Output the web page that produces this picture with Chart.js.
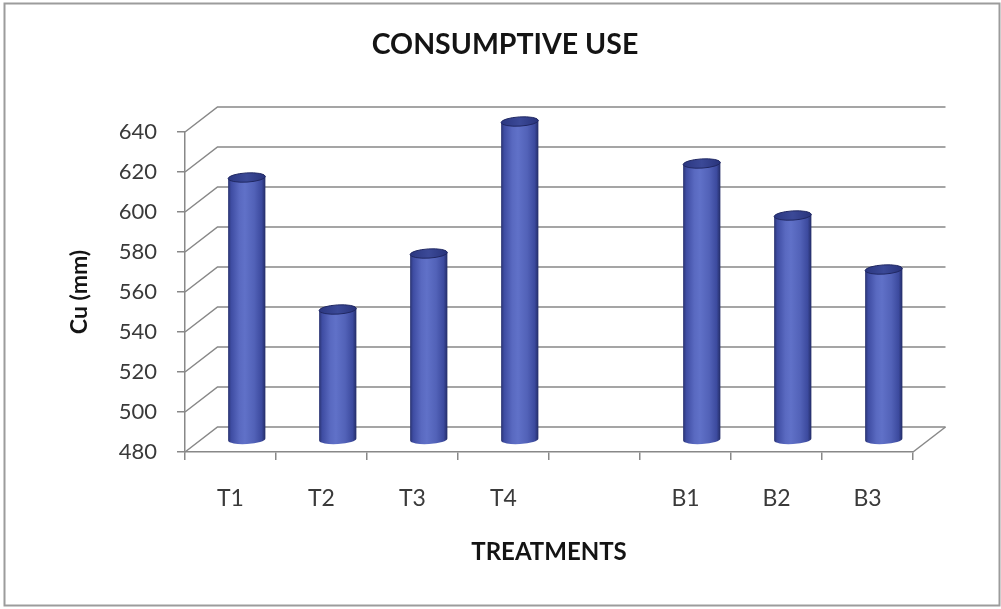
<!DOCTYPE html>
<html>
<head>
<meta charset="utf-8">
<title>Consumptive use</title>
<script src="https://cdn.jsdelivr.net/npm/chart.js@4.4.1/dist/chart.umd.min.js"></script>
<style>
  html, body { margin: 0; padding: 0; background: #ffffff; }
  #wrap { position: relative; width: 1001px; height: 609px; }
</style>
</head>
<body>
<div id="wrap"><canvas id="chart" width="1001" height="609"></canvas></div>
<script>
// Treatment labels (blank slot separates the T and B groups)
const categories = ['T1', 'T2', 'T3', 'T4', '', 'B1', 'B2', 'B3'];
// Consumptive use, mm
const cuValues = [611, 545, 573, 639, null, 618, 592, 565];
// Value axis range
const yMin = 480;
const yMax = 640;
const yStep = 20;

// Depth of the 3-D box (back wall offset from the front axes)
const DEPTH_X = 32.5;
const DEPTH_Y = 25;
const FONT = 'Lato, "Open Sans", sans-serif';
const GRID = '#888888';

function drawCylinder(ctx, cx, top, base, r, ry, tilt) {
  const c = Math.cos(tilt), s = Math.sin(tilt);
  const g = ctx.createLinearGradient(cx - r, 0, cx + r, 0);
  g.addColorStop(0, '#29326f');
  g.addColorStop(0.08, '#3e4ca2');
  g.addColorStop(0.3, '#5969c0');
  g.addColorStop(0.45, '#6071c8');
  g.addColorStop(0.7, '#5262b8');
  g.addColorStop(0.9, '#3c4a9e');
  g.addColorStop(1, '#232c66');
  ctx.beginPath();
  ctx.moveTo(cx - r * c, top - r * s);
  ctx.lineTo(cx - r * c, base - r * s);
  ctx.ellipse(cx, base, r, ry, tilt, Math.PI, 0, true);
  ctx.lineTo(cx + r * c, top + r * s);
  ctx.closePath();
  ctx.fillStyle = g;
  ctx.fill();

  const tg = ctx.createLinearGradient(cx - r, 0, cx + r, 0);
  tg.addColorStop(0, '#2b3781');
  tg.addColorStop(0.5, '#3b4997');
  tg.addColorStop(1, '#28337b');
  ctx.beginPath();
  ctx.ellipse(cx, top, r, ry, tilt, 0, Math.PI * 2);
  ctx.fillStyle = tg;
  ctx.fill();
  ctx.lineWidth = 1;
  ctx.strokeStyle = '#202863';
  ctx.stroke();
}

const box3d = {
  id: 'box3d',
  beforeDraw(chart) {
    const { ctx, width, height } = chart;
    ctx.save();
    ctx.fillStyle = '#ffffff';
    ctx.fillRect(0, 0, width, height);
    ctx.strokeStyle = '#9c9c9c';
    ctx.lineWidth = 2;
    ctx.strokeRect(4.5, 3.5, width - 6, height - 7);
    ctx.restore();
  },
  beforeDatasetsDraw(chart) {
    const { ctx, chartArea: a, scales: { y } } = chart;
    ctx.save();
    ctx.strokeStyle = GRID;
    ctx.lineWidth = 1.5;
    y.ticks.forEach(t => {
      const py = y.getPixelForValue(t.value);
      ctx.beginPath();
      ctx.moveTo(a.left, py);
      ctx.lineTo(a.left + DEPTH_X, py - DEPTH_Y);
      ctx.lineTo(a.right + DEPTH_X, py - DEPTH_Y);
      ctx.stroke();
    });
    const p0 = y.getPixelForValue(yMin);
    ctx.beginPath();
    ctx.moveTo(a.right, p0);
    ctx.lineTo(a.right + DEPTH_X, p0 - DEPTH_Y);
    ctx.stroke();
    ctx.restore();
  },
  afterDatasetsDraw(chart) {
    const { ctx, scales: { y } } = chart;
    const meta = chart.getDatasetMeta(0);
    const floor = y.getPixelForValue(yMin) - DEPTH_Y / 2;
    ctx.save();
    meta.data.forEach((bar, i) => {
      if (cuValues[i] == null) return;
      const cx = bar.x + DEPTH_X / 2;
      const top = y.getPixelForValue(cuValues[i]) - DEPTH_Y / 2;
      drawCylinder(ctx, cx, top, floor, bar.width / 2, 4.6, -0.06);
    });
    ctx.restore();
  }
};

new Chart(document.getElementById('chart'), {
  type: 'bar',
  data: {
    labels: categories,
    datasets: [{
      label: 'Cu (mm)',
      data: cuValues,
      backgroundColor: 'rgba(0,0,0,0)',
      borderWidth: 0,
      categoryPercentage: 1,
      barPercentage: 0.41
    }]
  },
  options: {
    responsive: false,
    animation: false,
    events: [],
    layout: { padding: { left: 9, right: 0, top: 0, bottom: 0 } },
    plugins: {
      legend: { display: false },
      tooltip: { enabled: false },
      title: {
        display: true,
        text: 'CONSUMPTIVE USE',
        color: '#141414',
        font: { family: FONT, size: 28.5, weight: 'bold', lineHeight: 1.2 },
        padding: { top: 27.7, bottom: 70.1 }
      }
    },
    scales: {
      x: {
        afterFit(scale) { scale.height = 157; },
        grid: { offset: true, drawOnChartArea: false, drawTicks: true, tickLength: 8, color: GRID, lineWidth: 1.5 },
        border: { display: true, color: GRID, width: 1.5 },
        ticks: { color: '#3a3a3a', padding: 25, font: { family: FONT, size: 23 } },
        title: {
          display: true,
          text: 'TREATMENTS',
          color: '#141414',
          font: { family: FONT, size: 24, weight: 'bold', lineHeight: 1.2 },
          padding: { top: 0, bottom: 42.6 }
        }
      },
      y: {
        min: yMin,
        max: yMax,
        afterFit(scale) { scale.width = 176; },
        grid: { drawOnChartArea: false, drawTicks: true, tickLength: 8, color: GRID, lineWidth: 1.5 },
        border: { display: true, color: GRID, width: 1.5 },
        ticks: { stepSize: yStep, color: '#3a3a3a', padding: 20, font: { family: FONT, size: 22 } },
        title: {
          display: true,
          text: 'Cu (mm)',
          color: '#141414',
          font: { family: FONT, size: 23, weight: 'bold', lineHeight: 1.2 },
          padding: { top: 57.2, bottom: 0 }
        }
      },
      // empty right-hand margin so the chart title centres on the whole frame
      yRight: {
        position: 'right',
        display: true,
        afterFit(scale) { scale.width = 88; },
        grid: { display: false },
        border: { display: false },
        ticks: { display: false }
      }
    }
  },
  plugins: [box3d]
});
</script>
</body>
</html>
